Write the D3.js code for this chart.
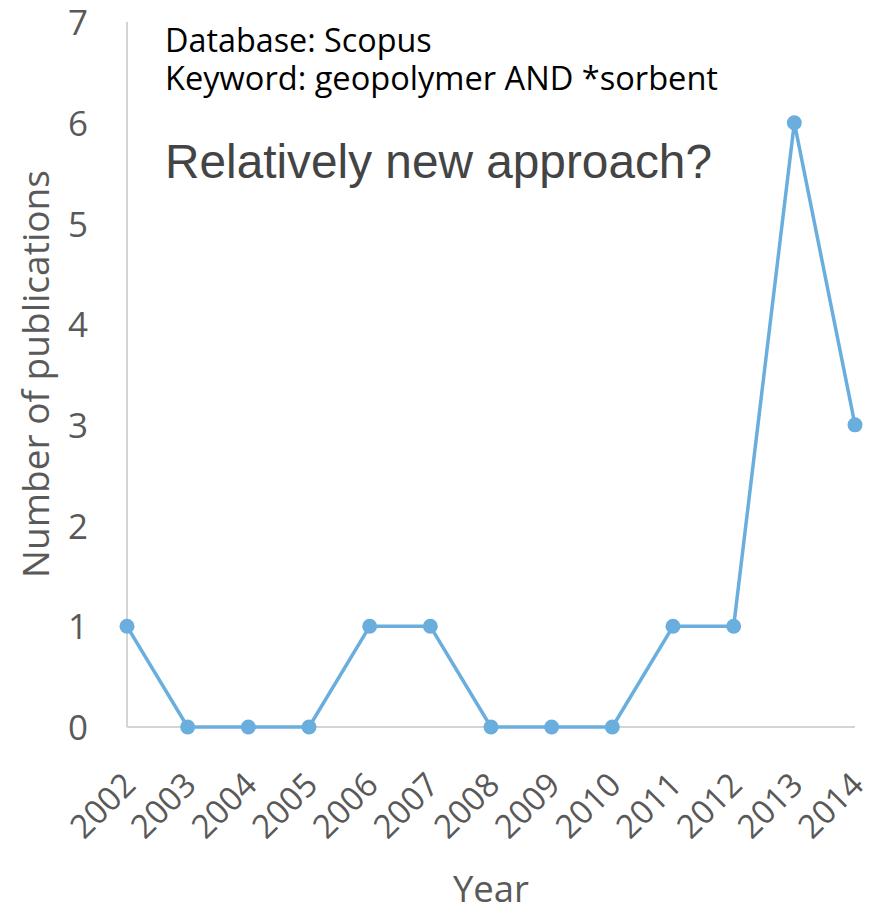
<!DOCTYPE html>
<html>
<head>
<meta charset="utf-8">
<script src="https://cdn.jsdelivr.net/npm/d3@7"></script>
<style>
  html, body { margin: 0; padding: 0; background: #fff; }
  svg { display: block; }
</style>
</head>
<body>
<svg id="chart" width="876" height="907"></svg>
<script>
// Publications per year, Scopus search "geopolymer AND *sorbent"
const years = ["2002","2003","2004","2005","2006","2007","2008","2009","2010","2011","2012","2013","2014"];
const publications = [1, 0, 0, 0, 1, 1, 0, 0, 0, 1, 1, 6, 3];
const yTicks = [0, 1, 2, 3, 4, 5, 6, 7];
const noteLines = ["Database: Scopus", "Keyword: geopolymer AND *sorbent"];
const headline = "Relatively new approach?";
const xTitle = "Year";
const yTitle = "Number of publications";

const W = 876, H = 907;
const plot = { left: 127, right: 855, top: 22, bottom: 727 };
const lineColor = "#6aaede";
const axisColor = "#d4d4d4";
const labelColor = "#595959";
const uiFont = "'Open Sans', 'Noto Sans', sans-serif";

const svg = d3.select("#chart");

const x = d3.scalePoint().domain(years).range([plot.left, plot.right]).padding(0);
const y = d3.scaleLinear().domain([0, 7]).range([plot.bottom, plot.top]);

// Scale a text element's font size so it spans the given width
function fitWidth(sel, target) {
  const node = sel.node();
  const fs = parseFloat(sel.attr("font-size"));
  const w = node.getComputedTextLength();
  sel.attr("font-size", (fs * target / w).toFixed(2));
}

// Axis lines
svg.append("line")
  .attr("x1", plot.left).attr("x2", plot.left)
  .attr("y1", y(7)).attr("y2", y(0))
  .attr("stroke", axisColor).attr("stroke-width", 2);
svg.append("line")
  .attr("x1", plot.left).attr("x2", plot.right)
  .attr("y1", y(0)).attr("y2", y(0))
  .attr("stroke", axisColor).attr("stroke-width", 2);

// Y tick labels
const yAxis = d3.axisLeft(y).tickValues(yTicks).tickSize(0).tickPadding(0).tickFormat(d3.format("d"));
const gy = svg.append("g").attr("transform", `translate(${plot.left - 39},0)`).call(yAxis);
gy.select(".domain").remove();
gy.selectAll("text")
  .attr("font-family", uiFont).attr("font-size", 35)
  .attr("fill", labelColor).attr("dy", "0.36em");

// X tick labels, rotated
const xAxis = d3.axisBottom(x).tickSize(0).tickPadding(0);
const gx = svg.append("g").attr("transform", `translate(0,${plot.bottom})`).call(xAxis);
gx.select(".domain").remove();
gx.selectAll(".tick text")
  .attr("font-family", uiFont).attr("font-size", 33)
  .attr("fill", labelColor)
  .attr("text-anchor", "end")
  .attr("dy", 0).attr("y", 0)
  .attr("transform", "translate(10,60) rotate(-45)");

// Axis titles
const xt = svg.append("text")
  .attr("x", (452 + 530) / 2).attr("y", 902)
  .attr("text-anchor", "middle")
  .attr("font-family", uiFont).attr("font-size", 36)
  .attr("fill", labelColor).text(xTitle);
fitWidth(xt, 76);

const yt = svg.append("text")
  .attr("transform", `translate(49,${(170 + 578) / 2}) rotate(-90)`)
  .attr("text-anchor", "middle")
  .attr("font-family", uiFont).attr("font-size", 36)
  .attr("fill", labelColor).text(yTitle);
fitWidth(yt, 408);

// Series line and markers
const line = d3.line().x((d, i) => x(years[i])).y(d => y(d));
svg.append("path")
  .datum(publications)
  .attr("d", line)
  .attr("fill", "none")
  .attr("stroke", lineColor)
  .attr("stroke-width", 3.5)
  .attr("stroke-linejoin", "round");
svg.append("g").selectAll("circle")
  .data(publications)
  .join("circle")
  .attr("cx", (d, i) => x(years[i]))
  .attr("cy", d => y(d))
  .attr("r", 7.5)
  .attr("fill", lineColor);

// Notes
const noteBaselines = [52, 90];
const noteWidths = [267, 553];
noteLines.forEach((t, i) => {
  const n = svg.append("text")
    .attr("x", 165).attr("y", noteBaselines[i])
    .attr("font-family", uiFont).attr("font-size", 28)
    .attr("fill", "#000").text(t);
  fitWidth(n, noteWidths[i]);
});

const hl = svg.append("text")
  .attr("x", 165).attr("y", 178)
  .attr("font-family", "'Liberation Sans', Arial, sans-serif")
  .attr("font-size", 48)
  .attr("fill", "#444").text(headline);
fitWidth(hl, 547);
</script>
</body>
</html>
